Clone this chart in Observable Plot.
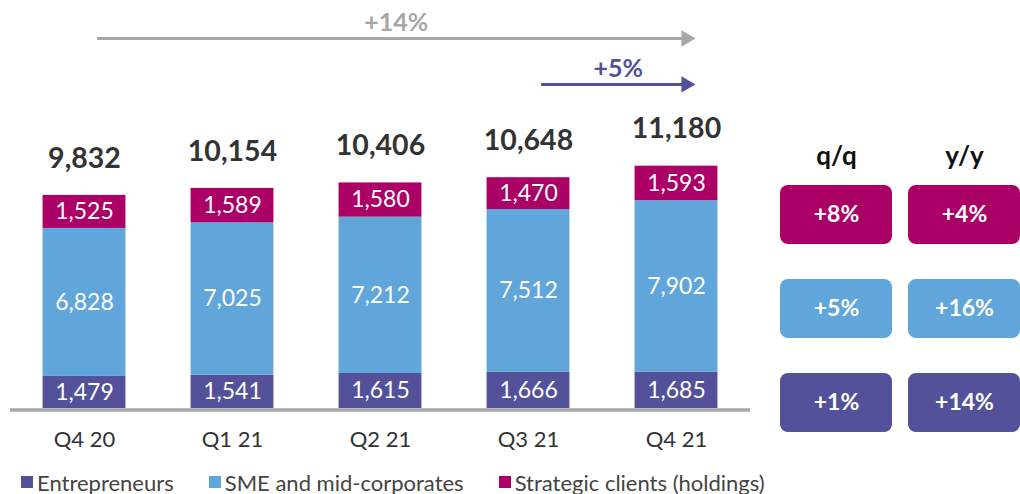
<!DOCTYPE html>
<html><head><meta charset="utf-8">
<script src="https://cdn.jsdelivr.net/npm/d3@7"></script>
<script src="https://cdn.jsdelivr.net/npm/@observablehq/plot@0.6"></script>
<style>
body{margin:0;background:#fff;font-family:Lato,"Open Sans",sans-serif;overflow:hidden;}
#row{display:flex;}
#legend{display:flex;align-items:center;height:32px;margin-top:4px;padding-left:21px;gap:35px;font-size:22px;color:#444;}
.item{display:flex;align-items:center;}
.sw{width:12px;height:12px;margin-right:4px;}
</style></head><body>
<div id="row"></div><div id="legend"></div>
<script>
// ---- data ----
const quarters = ["Q4 20", "Q1 21", "Q2 21", "Q3 21", "Q4 21"];
const segments = ["Entrepreneurs", "SME and mid-corporates", "Strategic clients (holdings)"];
const entrepreneurs = [1479, 1541, 1615, 1666, 1685];
const sme = [6828, 7025, 7212, 7512, 7902];
const strategic = [1525, 1589, 1580, 1470, 1593];
const totals = [9832, 10154, 10406, 10648, 11180];
const growthCols = ["q/q", "y/y"];
const qoq = ["+1%", "+5%", "+8%"];   // per segment (same order as segments)
const yoy = ["+14%", "+16%", "+4%"];
const growthArrows = [
  {from: "Q4 20", to: "Q4 21", label: "+14%"},
  {from: "Q3 21", to: "Q4 21", label: "+5%"}
];

// ---- styling ----
const colors = ["#525199", "#60a6da", "#ab0066"];
const arrowColors = ["#a6a6a6", "#525199"];
const arrowLevels = [17070, 14950];
const FONT = "Lato, 'Open Sans', sans-serif";
const H = 462;
const fmt = d3.format(",");

const series = [entrepreneurs, sme, strategic];
const data = quarters.flatMap((q, i) => segments.map((s, k) => ({q, i, segment: s, value: series[k][i]})));
const half = 0.28;

const arrowMarks = growthArrows.flatMap((a, k) => {
  const start = quarters.indexOf(a.from) + 0.085;
  const end = quarters.indexOf(a.to);
  const tip = end + 0.128;
  const d = [{y: arrowLevels[k]}];
  return [
    Plot.link(d, {x1: () => start, x2: () => end + 0.05, y1: "y", y2: "y", stroke: arrowColors[k], strokeWidth: 3}),
    Plot.dot(d, {x: () => end + 0.065, y: "y", symbol: "triangle", r: 6.05, rotate: 90, fill: arrowColors[k], stroke: "none"}),
    Plot.text(d, {x: () => (start + tip) / 2, y: "y", dy: -15, text: () => a.label, fill: arrowColors[k], fontWeight: "bold", fontSize: 25, fontFamily: FONT})
  ];
});

const main = Plot.plot({
  width: 760, height: H,
  marginLeft: 10, marginRight: 10, marginTop: 7, marginBottom: 54,
  x: {type: "linear", domain: [-0.5, quarters.length - 0.5]},
  y: {domain: [0, 18500], axis: null},
  color: {domain: segments, range: colors},
  style: {fontFamily: FONT, overflow: "visible", background: "white"},
  marks: [
    Plot.rect(data, Plot.stackY({x1: d => d.i - half, x2: d => d.i + half, y: "value", fill: "segment", order: segments})),
    Plot.text(data, Plot.stackY({x: "i", y: "value", z: "segment", order: segments, text: d => fmt(d.value), fill: "white", fontSize: 23, fontFamily: FONT})),
    Plot.text(quarters, {x: (d, i) => i, y: (d, i) => totals[i], text: (d, i) => fmt(totals[i]), dy: -37, fontWeight: "bold", fontSize: 28.5, fill: "#333", fontFamily: FONT}),
    Plot.ruleY([0], {stroke: "#a6a6a6", strokeWidth: 3.5, dy: 1.5}),
    Plot.axisX({ticks: quarters.map((_, i) => i), tickFormat: i => quarters[i], tickSize: 0, tickPadding: 23, fontSize: 22, color: "#333", fontFamily: FONT, label: null}),
    ...arrowMarks
  ]
});

const cells = segments.flatMap((s, k) => [
  {col: growthCols[0], segment: s, label: qoq[k]},
  {col: growthCols[1], segment: s, label: yoy[k]}
]);

const table = Plot.plot({
  width: 260, height: H,
  marginLeft: 20, marginRight: 0, marginTop: 184, marginBottom: 28,
  x: {type: "band", domain: growthCols, paddingInner: 0.125, paddingOuter: 0, axis: null},
  y: {type: "band", domain: [...segments].reverse(), paddingInner: 0.368, paddingOuter: 0, axis: null},
  color: {domain: segments, range: colors},
  style: {fontFamily: FONT, overflow: "visible", background: "white"},
  marks: [
    Plot.cell(cells, {x: "col", y: "segment", fill: "segment", rx: 8, inset: 0}),
    Plot.text(cells, {x: "col", y: "segment", text: "label", fill: "white", fontWeight: "bold", fontSize: 23, fontFamily: FONT}),
    Plot.text(growthCols, {x: d => d, frameAnchor: "top", dy: -38, text: d => d, fontWeight: "bold", fontSize: 26, fill: "#111", fontFamily: FONT})
  ]
});

document.getElementById("row").append(main, table);

const legend = document.getElementById("legend");
segments.forEach((s, k) => {
  const item = document.createElement("div");
  item.className = "item";
  const sw = document.createElement("span");
  sw.className = "sw";
  sw.style.background = colors[k];
  const t = document.createElement("span");
  t.textContent = s;
  item.append(sw, t);
  legend.append(item);
});
</script>
</body></html>
